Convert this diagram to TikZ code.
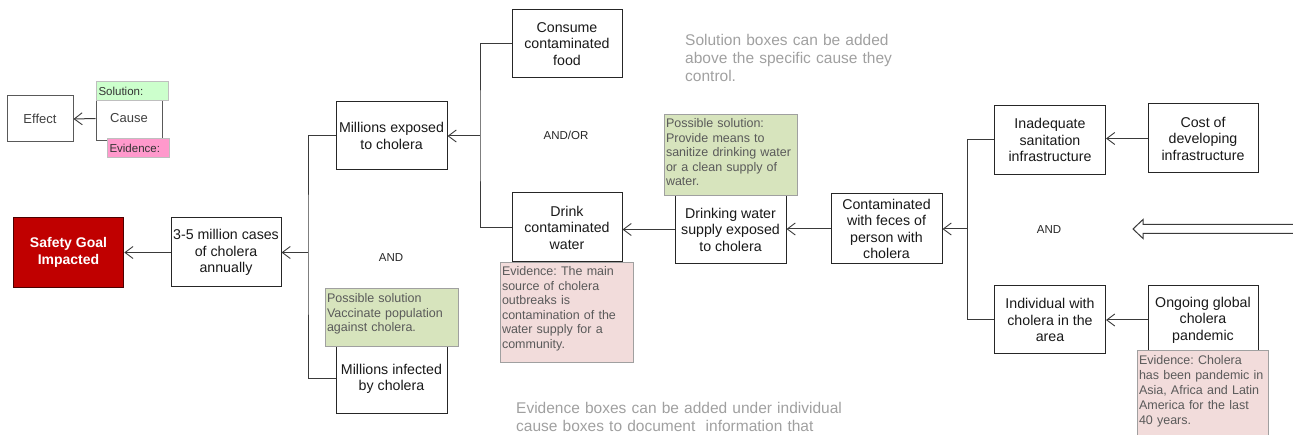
\documentclass[tikz,border=0pt]{standalone}
\usepackage{fontspec}
\setmainfont{Liberation Sans}
\usetikzlibrary{arrows.meta}
\definecolor{ln}{HTML}{3A3A3A}
\definecolor{sgred}{HTML}{C00000}
\definecolor{solfill}{HTML}{D7E4BD}
\definecolor{evfill}{HTML}{F2DCDB}
\definecolor{notegray}{HTML}{A0A0A0}
\definecolor{smalltext}{HTML}{5A5A5A}
\definecolor{legsol}{HTML}{CCFFCC}
\definecolor{legev}{HTML}{FF99CC}
\frenchspacing
\begin{document}
\begin{tikzpicture}[x=1pt,y=-1pt,
  box/.style={draw=black!85, line width=1pt, fill=white, align=center, inner sep=1pt,
    font=\fontsize{14.2}{16.5}\selectfont, text=black!90},
  legbox/.style={draw=black!65, line width=1pt, fill=white, align=center, inner sep=1pt,
    font=\fontsize{13}{15}\selectfont, text=black!75},
  conn/.style={draw=ln, line width=1pt},
  arr/.style={conn, -{Straight Barb[length=8pt,width=12pt,line width=0.9pt]}},
  notebox/.style={draw=notegray, line width=1pt, align=left, anchor=north west,
    inner xsep=1.5pt, inner ysep=2pt, font=\fontsize{12.5}{14.5}\selectfont, text=smalltext},
  solbox/.style={notebox, fill=solfill},
  evbox/.style={notebox, fill=evfill},
  legtag/.style={draw=black!25, line width=1pt, align=left, anchor=north west,
    inner xsep=2pt, inner ysep=0pt, font=\fontsize{11.5}{13}\selectfont, text=black!80,
    text height=14pt, text depth=5pt},
  gatelabel/.style={font=\fontsize{11.5}{13}\selectfont, text=black!85},
  graynote/.style={align=left, anchor=base west, inner sep=0pt,
    font=\fontsize{15.5}{18}\selectfont, text=notegray}
]
\useasboundingbox (0,0) rectangle (1293,435);
\clip (0,0) rectangle (1293,435);

% ---------- legend ----------
\node[legbox, minimum width=66pt, minimum height=46pt] (effect) at (40,119) {Effect};
\node[legbox, minimum width=66pt, minimum height=45pt] (cause) at (129,118.5) {Cause};
\node[legtag, fill=legsol, text width=68pt] (legsol) at (96,81) {Solution:};
\node[legtag, fill=legev, text width=58pt] (legev) at (107,138) {Evidence:};
\draw[arr] (cause.west) -- (effect.east);

% ---------- main boxes ----------
\node[draw=black!70!red, line width=1.6pt, fill=sgred, minimum width=110pt, minimum height=70pt,
  align=center, text=white, font=\fontsize{14}{16.5}\selectfont\bfseries] (goal) at (68.5,252.5)
  {Safety Goal\\Impacted};
\node[box, minimum width=110pt, minimum height=69pt] (c35) at (226,252.5)
  {3-5 million cases\\of cholera\\annually};
\node[box, minimum width=111pt, minimum height=68pt] (exposed) at (391.5,136)
  {Millions exposed\\to cholera};
\node[box, minimum width=111pt, minimum height=68pt] (infected) at (391.5,379)
  {Millions infected\\by cholera};
\node[box, minimum width=110pt, minimum height=68pt] (consume) at (567,44)
  {Consume\\contaminated\\food};
\node[box, minimum width=110pt, minimum height=69pt] (drink) at (567,227.5)
  {Drink\\contaminated\\water};
\node[box, minimum width=111pt, minimum height=69pt] (supply) at (730.5,229.5)
  {Drinking water\\supply exposed\\to cholera};
\node[box, minimum width=111pt, minimum height=70pt] (contam) at (886.5,229)
  {Contaminated\\with feces of\\person with\\cholera};
\node[box, minimum width=111pt, minimum height=69pt] (inadequate) at (1050,140)
  {Inadequate\\sanitation\\infrastructure};
\node[box, minimum width=110pt, minimum height=69pt] (cost) at (1203,138.5)
  {Cost of\\developing\\infrastructure};
\node[box, minimum width=111pt, minimum height=68pt] (individual) at (1050,320)
  {Individual with\\cholera in the\\area};
\node[box, minimum width=110pt, minimum height=68pt] (ongoing) at (1203,320)
  {Ongoing global\\cholera\\pandemic};

% ---------- junctions and connectors ----------
\coordinate (j1) at (308,252.5);
\coordinate (j2) at (480,136);
\coordinate (j3) at (967,229);
\draw[conn] (exposed.west) -| (j1) |- (infected.west);
\draw[arr] (j1) -- (c35.east);
\draw[arr] (c35.west) -- (goal.east);
\draw[conn] (consume.west) -| (j2) |- (drink.west);
\draw[arr] (j2) -- (exposed.east);
\draw[arr] (supply.west) -- (supply.west -| drink.east);
\draw[arr] (contam.west) -- (contam.west -| supply.east);
\draw[conn] (inadequate.west) -| (j3) |- (individual.west);
\draw[arr] (j3) -- (contam.east);
\draw[arr] (cost.west) -- (cost.west -| inadequate.east);
\draw[arr] (ongoing.west) -- (ongoing.west -| individual.east);

% ---------- gate labels ----------
\node[gatelabel] (and1) at (391,258) {AND};
\node[gatelabel] (andor) at (566,135) {AND/OR};
\node[gatelabel] (and2) at (1049,230) {AND};

% ---------- solution / evidence boxes ----------
\node[solbox, text width=130pt, text height=12.5pt, text depth=41.5pt] (sol1) at (325,288)
  {Possible solution\\Vaccinate population\\against cholera.};
\node[solbox, text width=130pt, text height=11.5pt, text depth=65.5pt] (sol2) at (664,114)
  {Possible solution:\\Provide means to\\sanitize drinking water\\or a clean supply of\\water.};
\node[evbox, text width=130pt, text height=11.5pt, text depth=84.5pt] (ev1) at (500,262)
  {Evidence: The main\\source of cholera\\outbreaks is\\contamination of the\\water supply for a\\community.};
\node[evbox, font=\fontsize{12.5}{15}\selectfont, text width=128pt, text height=12.5pt, text depth=84pt] (ev2) at (1137,350)
  {Evidence: Cholera\\has been pandemic in\\Asia, Africa and Latin\\America for the last\\40 years.};

% ---------- hollow arrow ----------
\draw[draw=ln, line width=1pt, fill=white]
  (1300,224.5) -- (1143,224.5) -- (1143,219.5) -- (1133,229) -- (1143,238.5) -- (1143,233.5) -- (1300,233.5);

% ---------- gray notes ----------
\node[graynote, text width=240pt] (note1) at (685,45.5)
  {Solution boxes can be added\\above the specific cause they\\control.};
\node[graynote, text width=360pt] (note2) at (516,413.5)
  {Evidence boxes can be added under individual\\cause boxes to document~ information that};
\end{tikzpicture}
\end{document}
